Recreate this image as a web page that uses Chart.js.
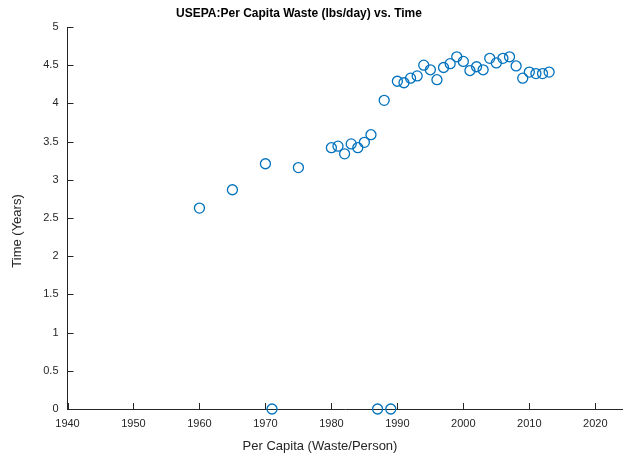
<!DOCTYPE html>
<html>
<head>
<meta charset="utf-8">
<script src="https://cdn.jsdelivr.net/npm/chart.js@4"></script>
<style>
    html, body { margin: 0; padding: 0; background: #fff; }
    #wrap { width: 623px; height: 457px; }
</style>
</head>
<body>
<div id="wrap"><canvas id="wasteChart"></canvas></div>
<script>
// ============================================================
// DATA
// ============================================================
const years = [
    1960, 1965, 1970, 1971, 1975, 1980, 1981, 1982, 1983, 1984, 1985, 1986,
    1987, 1988, 1989, 1990, 1991, 1992, 1993, 1994, 1995, 1996, 1997, 1998,
    1999, 2000, 2001, 2002, 2003, 2004, 2005, 2006, 2007, 2008, 2009, 2010,
    2011, 2012, 2013
];
const perCapita = [
    2.63, 2.87, 3.21, 0, 3.16, 3.42, 3.44, 3.34, 3.47, 3.42, 3.49, 3.59,
    0, 4.04, 0, 4.29, 4.27, 4.33, 4.36, 4.50, 4.44, 4.31, 4.47, 4.52,
    4.61, 4.55, 4.43, 4.48, 4.44, 4.59, 4.53, 4.59, 4.61, 4.49, 4.33, 4.41,
    4.39, 4.39, 4.41
];
const xTicks = [1940, 1950, 1960, 1970, 1980, 1990, 2000, 2010, 2020];
const yTicks = [0, 0.5, 1, 1.5, 2, 2.5, 3, 3.5, 4, 4.5, 5];

const chartTitle = "USEPA:Per Capita Waste (lbs/day) vs. Time";
const xTitle = "Per Capita (Waste/Person)";
const yTitle = "Time (Years)";

const axisColor = "#262626";
const markerColor = "#0072BD";
const fontFamily = "'Liberation Sans', Arial, Helvetica, sans-serif";

// ============================================================
// PLUGIN: inward tick marks + titles placed like the original
// ============================================================
const matlabLook = {
    id: "matlabLook",
    afterDraw(chart) {
        const ctx = chart.ctx;
        const area = chart.chartArea;
        const xs = chart.scales.x;
        const ys = chart.scales.y;
        const len = 6;

        ctx.save();
        ctx.strokeStyle = axisColor;
        ctx.lineWidth = 1;
        ctx.beginPath();
        xs.ticks.forEach(t => {
            const px = Math.round(xs.getPixelForValue(t.value)) + 0.5;
            ctx.moveTo(px, area.bottom);
            ctx.lineTo(px, area.bottom - len);
        });
        ys.ticks.forEach(t => {
            const py = Math.round(ys.getPixelForValue(t.value)) + 0.5;
            ctx.moveTo(area.left, py);
            ctx.lineTo(area.left + len, py);
        });
        ctx.stroke();

        ctx.textAlign = "center";
        ctx.textBaseline = "middle";

        // main title
        ctx.font = "bold 12px " + fontFamily;
        ctx.fillStyle = "#000";
        ctx.fillText(chartTitle, 299, 14);

        // x axis title
        ctx.fillStyle = axisColor;
        ctx.font = "13px " + fontFamily;
        ctx.fillText(xTitle, 320, 446);

        // y axis title (rotated)
        ctx.translate(17, 231);
        ctx.rotate(-Math.PI / 2);
        ctx.fillText(yTitle, 0, 0);
        ctx.restore();
    }
};

// ============================================================
// CHART
// ============================================================
function renderWasteChart(canvasId) {
    const canvas = document.getElementById(canvasId);
    if (!canvas) return;

    const ctx = canvas.getContext("2d");
    canvas._chartInstance?.destroy();

    const points = years.map((yr, i) => ({ x: yr, y: perCapita[i] }));

    canvas._chartInstance = new Chart(ctx, {
        type: "scatter",
        data: {
            datasets: [{
                label: "Per capita waste",
                data: points,
                pointStyle: "circle",
                pointRadius: 5,
                pointHoverRadius: 5,
                pointBorderWidth: 1.3,
                pointBorderColor: markerColor,
                pointBackgroundColor: "rgba(0,0,0,0)",
                clip: false
            }]
        },
        options: {
            responsive: true,
            maintainAspectRatio: false,
            animation: false,
            layout: {
                autoPadding: false,
                padding: { top: 27, right: 0, bottom: 0, left: 0 }
            },
            plugins: {
                legend: { display: false },
                title: { display: false },
                tooltip: { enabled: false }
            },
            scales: {
                x: {
                    type: "linear",
                    min: 1940,
                    max: 2024.2,
                    afterFit: s => {
                        s.height = 48;
                        s.paddingLeft = 0;
                        s.paddingRight = 0;
                    },
                    afterBuildTicks: s => {
                        s.ticks = xTicks.map(v => ({ value: v }));
                    },
                    grid: { display: false, drawTicks: false },
                    border: { display: true, color: axisColor, width: 1 },
                    ticks: {
                        padding: 8,
                        color: axisColor,
                        font: { family: fontFamily, size: 11 },
                        maxRotation: 0,
                        callback: v => String(v)
                    }
                },
                y: {
                    type: "linear",
                    min: 0,
                    max: 5,
                    afterFit: s => {
                        s.width = 67.5;
                        s.paddingTop = 0;
                        s.paddingBottom = 0;
                    },
                    afterBuildTicks: s => {
                        s.ticks = yTicks.map(v => ({ value: v }));
                    },
                    grid: { display: false, drawTicks: false },
                    border: { display: true, color: axisColor, width: 1 },
                    ticks: {
                        padding: 9,
                        color: axisColor,
                        font: { family: fontFamily, size: 11 },
                        callback: v => String(v)
                    }
                }
            }
        },
        plugins: [matlabLook]
    });
}

renderWasteChart("wasteChart");
</script>
</body>
</html>
